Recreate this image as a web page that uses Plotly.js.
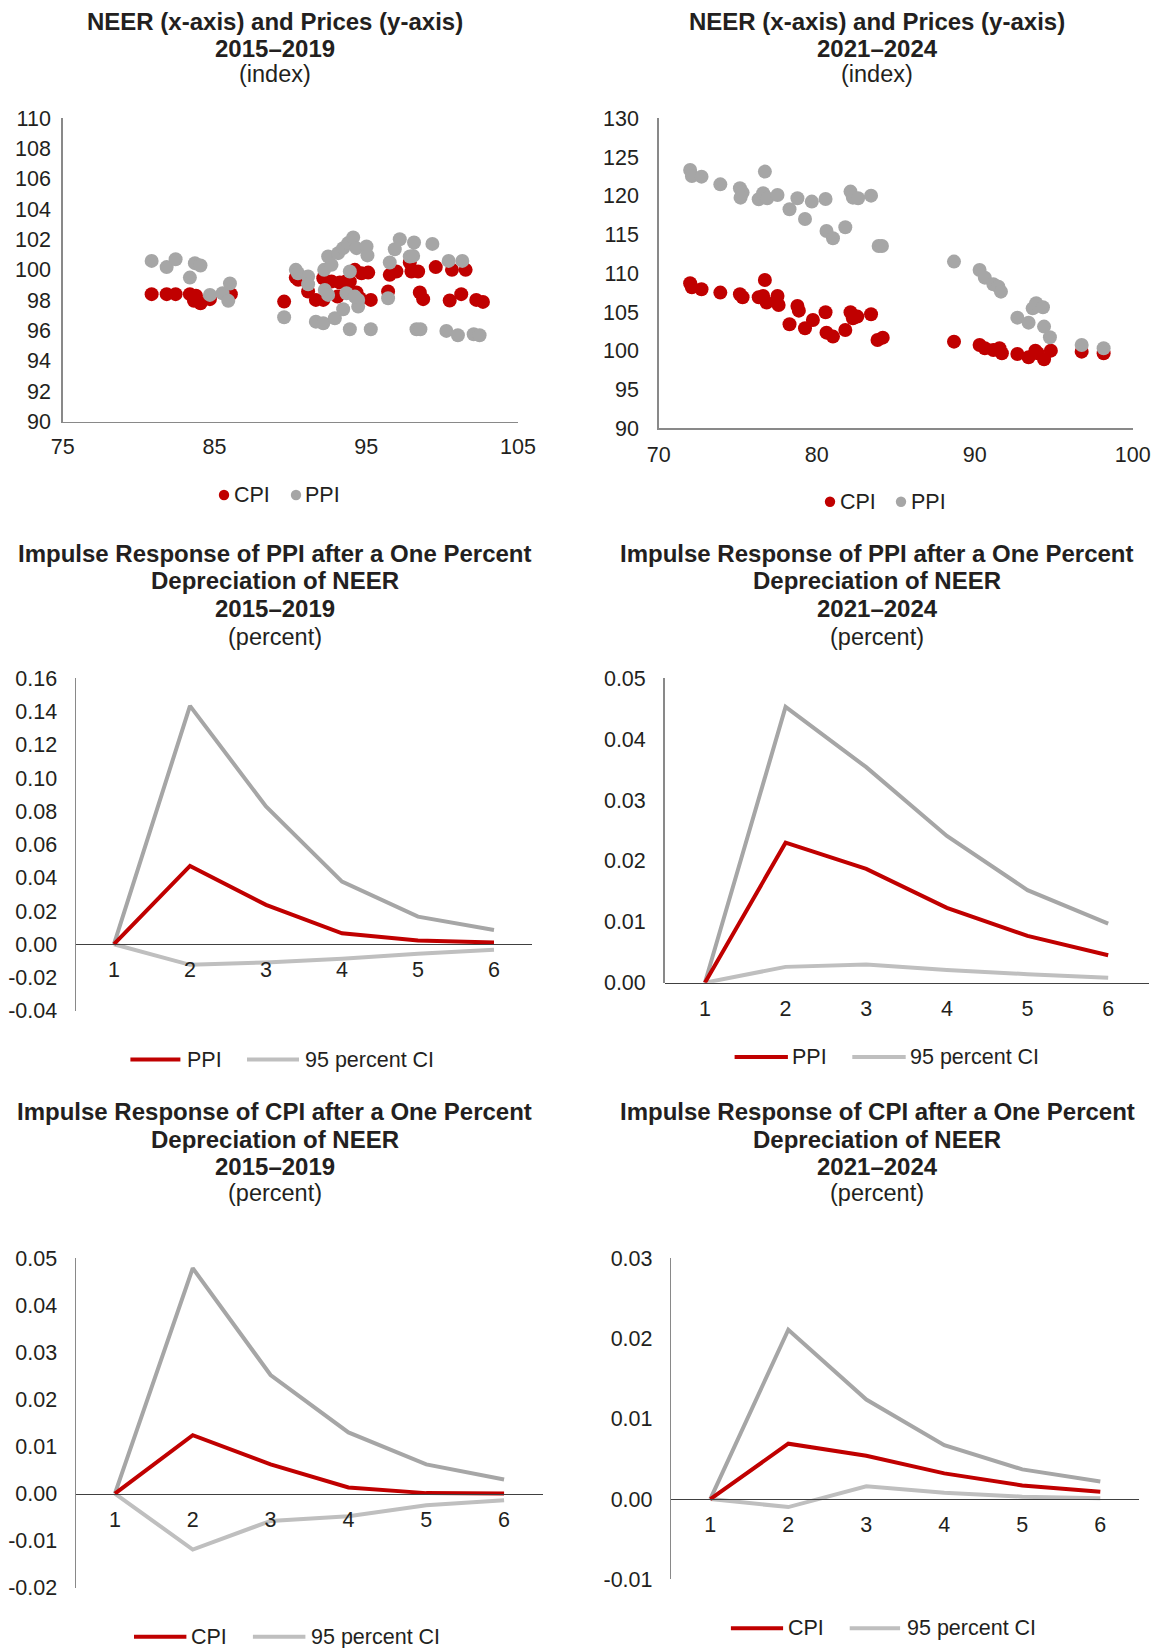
<!DOCTYPE html>
<html>
<head>
<meta charset="utf-8">
<script src="https://cdn.plot.ly/plotly-3.0.1.min.js"></script>
<style>
  html, body { margin: 0; padding: 0; background: #ffffff; }
  #chart { width: 1157px; height: 1648px; }
</style>
</head>
<body>
<div id="chart"></div>
<script>
// ---------------- DATA ----------------
// Panel 1: NEER vs prices, 2015–2019
const neer1519_cpi = [80.86,81.85,82.44,83.38,83.78,83.65,84.08,84.70,85.80,86.08,89.59,90.36,90.52,91.17,91.68,92.17,92.17,92.71,93.11,93.26,93.65,93.92,94.25,94.36,94.58,94.69,95.13,95.30,96.44,96.55,96.99,97.87,97.98,98.42,98.53,98.75,99.58,100.50,100.65,101.26,101.55,102.25,102.69];
const cpi1519 = [98.40,98.40,98.40,98.40,98.29,97.96,97.80,98.07,98.40,98.40,97.91,99.49,99.34,98.57,98.02,98.02,99.45,99.23,98.24,99.16,99.23,99.23,100.00,98.51,98.13,99.78,99.82,98.02,98.57,99.67,99.89,100.48,99.89,99.89,98.51,98.07,100.18,97.98,100.00,98.40,100.00,98.02,97.89];
const neer1519_ppi = [80.86,81.85,82.44,83.38,83.71,84.08,84.70,85.53,85.91,86.02,89.59,90.36,90.50,91.17,91.17,91.68,92.17,92.23,92.49,92.71,92.27,92.49,92.93,93.15,93.48,93.48,93.81,94.14,93.92,93.70,93.92,94.36,94.47,94.47,94.25,95.02,95.08,95.30,96.44,96.55,96.88,97.21,97.87,98.09,98.15,98.31,98.57,99.36,100.28,100.43,101.04,101.33,102.08,102.47];
const ppi1519 = [100.59,100.18,100.70,99.49,100.44,100.29,98.35,98.46,97.96,99.10,96.88,100.00,99.78,99.56,99.05,96.59,96.48,100.00,100.88,100.33,98.68,98.35,96.81,101.10,101.43,97.41,101.76,102.13,99.89,98.46,96.09,101.43,98.02,97.58,98.24,101.54,100.95,96.09,98.13,100.48,101.36,102.02,100.88,100.92,101.80,96.09,96.09,101.71,95.98,100.59,95.69,100.59,95.76,95.69];

// Panel 2: NEER vs prices, 2021–2024
const neer2124_cpi = [71.99,72.10,72.71,73.90,75.14,75.31,76.72,76.33,76.61,76.83,77.52,77.59,78.28,78.78,78.87,79.26,79.76,80.56,80.62,81.03,81.81,82.14,82.29,82.57,83.44,83.85,84.18,88.69,90.31,90.64,91.18,91.57,91.72,92.70,93.41,93.84,93.99,94.39,94.82,96.77,98.16];
const cpi2124 = [108.71,108.19,107.94,107.51,107.29,106.90,109.14,106.90,107.08,106.22,107.08,105.91,103.42,105.78,105.18,102.90,103.98,104.97,102.34,101.83,102.69,104.97,104.19,104.41,104.71,101.40,101.70,101.18,100.75,100.32,100.11,100.32,99.68,99.59,99.16,100.02,99.68,98.90,100.02,99.89,99.68];
const neer2124_ppi = [71.99,72.10,72.71,73.90,75.14,75.31,75.18,76.72,76.33,76.61,76.87,77.52,78.28,78.78,79.26,79.69,80.56,80.62,81.03,81.81,82.14,82.29,82.62,83.44,83.92,84.13,88.69,90.31,90.64,91.18,91.50,91.66,92.70,93.41,93.67,93.89,94.32,94.39,94.76,96.77,98.16];
const ppi2124 = [123.33,122.56,122.47,121.48,120.97,120.41,119.76,123.12,119.55,120.32,119.68,120.11,118.26,119.68,117.01,119.25,119.59,115.46,114.52,115.94,120.54,119.76,119.68,120.02,113.53,113.53,111.51,110.43,109.44,108.58,108.28,107.63,104.28,103.63,105.48,106.13,105.61,103.12,101.74,100.75,100.32];

// Impulse responses (horizon 1..6)
const horizon = [1,2,3,4,5,6];
const ppiIRF_1519   = [0, 0.0471, 0.0237, 0.0066, 0.0022, 0.0010];
const ppiUp_1519    = [0, 0.1434, 0.0829, 0.0377, 0.0166, 0.0086];
const ppiLo_1519    = [0, -0.0124, -0.0110, -0.0088, -0.0058, -0.0034];
const ppiIRF_2124   = [0, 0.0230, 0.0187, 0.0123, 0.0077, 0.0045];
const ppiUp_2124    = [0, 0.0453, 0.0354, 0.0241, 0.0152, 0.0097];
const ppiLo_2124    = [0, 0.0026, 0.0030, 0.0021, 0.0014, 0.0008];
const cpiIRF_1519   = [0, 0.0124, 0.0062, 0.0013, 0.0001, 0.0000];
const cpiUp_1519    = [0, 0.0479, 0.0252, 0.0130, 0.0062, 0.0030];
const cpiLo_1519    = [0, -0.0119, -0.0058, -0.0048, -0.0025, -0.0014];
const cpiIRF_2124   = [0, 0.0069, 0.0054, 0.0032, 0.0017, 0.0009];
const cpiUp_2124    = [0, 0.0211, 0.0124, 0.0067, 0.0037, 0.0022];
const cpiLo_2124    = [0, -0.0010, 0.0016, 0.0008, 0.0003, 0.0001];

// Tick values
const yTicks1 = [90,92,94,96,98,100,102,104,106,108,110];
const xTicks1 = [75,85,95,105];
const yTicks2 = [90,95,100,105,110,115,120,125,130];
const xTicks2 = [70,80,90,100];
const yTicks3 = [-0.04,-0.02,0.00,0.02,0.04,0.06,0.08,0.10,0.12,0.14,0.16];
const yTicks4 = [0.00,0.01,0.02,0.03,0.04,0.05];
const yTicks5 = [-0.02,-0.01,0.00,0.01,0.02,0.03,0.04,0.05];
const yTicks6 = [-0.01,0.00,0.01,0.02,0.03];

// ---------------- STYLE / LAYOUT ----------------
const W = 1157, H = 1648;
const FONT = 'Liberation Sans, Arial, Helvetica, sans-serif';
const RED = '#C00000', GRAY = '#A6A6A6', LGRAY = '#BFBFBF';
const TXT = '#231F20';
const LW = 4;

// plot boxes in pixels: [left, right, top, bottom]
const boxes = [
  [62.7, 518, 118, 421.7],
  [658.7, 1132.7, 118.3, 428.3],
  [76, 532, 678.3, 1010.7],
  [664.6, 1148.5, 678.3, 982.7],
  [76, 543, 1258.3, 1587.7],
  [671.3, 1139.3, 1258.3, 1579.3]
];
const xd = b => [b[0]/W, b[1]/W];
const yd = b => [1 - b[3]/H, 1 - b[2]/H];
const px = v => v / W;
const py = v => 1 - v / H;

const traces = [];
// Scatter panels
traces.push({type:'scatter', mode:'markers', x:neer1519_cpi, y:cpi1519, name:'CPI', xaxis:'x', yaxis:'y',
  marker:{color:RED, size:14}, hoverinfo:'skip', showlegend:false});
traces.push({type:'scatter', mode:'markers', x:neer1519_ppi, y:ppi1519, name:'PPI', xaxis:'x', yaxis:'y',
  marker:{color:GRAY, size:14}, hoverinfo:'skip', showlegend:false});
traces.push({type:'scatter', mode:'markers', x:neer2124_cpi, y:cpi2124, name:'CPI', xaxis:'x2', yaxis:'y2',
  marker:{color:RED, size:14}, hoverinfo:'skip', showlegend:false});
traces.push({type:'scatter', mode:'markers', x:neer2124_ppi, y:ppi2124, name:'PPI', xaxis:'x2', yaxis:'y2',
  marker:{color:GRAY, size:14}, hoverinfo:'skip', showlegend:false});

function irf(idx, name, mid, up, lo) {
  const xa = 'x' + idx, ya = 'y' + idx;
  traces.push({type:'scatter', mode:'lines', x:horizon, y:up, xaxis:xa, yaxis:ya, name:'95 percent CI (upper)',
    line:{color:GRAY, width:LW}, hoverinfo:'skip', showlegend:false});
  traces.push({type:'scatter', mode:'lines', x:horizon, y:lo, xaxis:xa, yaxis:ya, name:'95 percent CI',
    line:{color:LGRAY, width:LW}, hoverinfo:'skip', showlegend:false});
  traces.push({type:'scatter', mode:'lines', x:horizon, y:mid, xaxis:xa, yaxis:ya, name:name,
    line:{color:RED, width:LW}, hoverinfo:'skip', showlegend:false});
}
irf(3, 'PPI', ppiIRF_1519, ppiUp_1519, ppiLo_1519);
irf(4, 'PPI', ppiIRF_2124, ppiUp_2124, ppiLo_2124);
irf(5, 'CPI', cpiIRF_1519, cpiUp_1519, cpiLo_1519);
irf(6, 'CPI', cpiIRF_2124, cpiUp_2124, cpiLo_2124);

const tickFont = {family:FONT, size:21.5, color:TXT};
const layout = {
  width: W, height: H,
  margin: {l:0, r:0, t:0, b:0},
  paper_bgcolor: '#ffffff', plot_bgcolor: 'rgba(0,0,0,0)',
  font: {family: FONT, color: TXT},
  showlegend: false,
  annotations: [],
  shapes: []
};

function yAxis(idx, ticks, range, texts, standoff) {
  return {
    domain: yd(boxes[idx-1]), anchor: 'x' + (idx === 1 ? '' : idx), range: range,
    tickvals: ticks, ticktext: texts, showgrid: false, zeroline: false,
    showline: true, linecolor: '#898989', linewidth: 1.5, ticks: '',
    tickfont: tickFont, ticklabelstandoff: standoff, fixedrange: true
  };
}
// scatter axes
layout.xaxis = {domain: xd(boxes[0]), anchor: 'y', range: [75,105], tickvals: xTicks1, ticktext: xTicks1.map(String),
  showgrid:false, zeroline:false, showline:true, linecolor:'#898989', linewidth:1.5, ticks:'', tickfont:tickFont, ticklabelstandoff: 5};
layout.yaxis = yAxis(1, yTicks1, [90,110], yTicks1.map(String), 6);
layout.xaxis2 = {domain: xd(boxes[1]), anchor: 'y2', range: [70,100], tickvals: xTicks2, ticktext: xTicks2.map(String),
  showgrid:false, zeroline:false, showline:true, linecolor:'#898989', linewidth:1.5, ticks:'', tickfont:tickFont, ticklabelstandoff: 6};
layout.yaxis2 = yAxis(2, yTicks2, [90,130], yTicks2.map(String), 14);

// IRF axes
const irfYTicks = {3: yTicks3, 4: yTicks4, 5: yTicks5, 6: yTicks6};
for (const idx of [3,4,5,6]) {
  const t = irfYTicks[idx];
  const range = [t[0], t[t.length-1]];
  const dom = yd(boxes[idx-1]);
  const pos = dom[0] + (0 - range[0]) / (range[1] - range[0]) * (dom[1] - dom[0]);
  layout['yaxis' + idx] = yAxis(idx, t, range, t.map(v => v.toFixed(2)), 13);
  layout['xaxis' + idx] = {domain: xd(boxes[idx-1]), anchor: 'free', position: pos, range: [0.5, 6.5],
    tickvals: horizon, ticktext: horizon.map(String), showgrid:false, zeroline:false,
    showline:true, linecolor:'#404040', linewidth:1.2, ticks:'', tickfont:tickFont, ticklabelstandoff: 6, fixedrange:true};
}

// ---- legends (drawn as shapes + text) ----
const LEGFONT = {family:FONT, size:21.5, color:TXT};
function legendText(x, y, text) {
  layout.annotations.push({xref:'paper', yref:'paper', x:px(x), y:py(y), xanchor:'left', yanchor:'middle',
    text:text, showarrow:false, font:LEGFONT, xshift:-2});
}
function legendDot(cx, cy, color) {
  const r = 5.2;
  layout.shapes.push({type:'circle', xref:'paper', yref:'paper', x0:px(cx-r), x1:px(cx+r), y0:py(cy+r), y1:py(cy-r),
    fillcolor:color, line:{width:0}});
}
function legendLine(x0, x1, y, color) {
  layout.shapes.push({type:'line', xref:'paper', yref:'paper', x0:px(x0), x1:px(x1), y0:py(y), y1:py(y),
    line:{color:color, width:LW}});
}
// scatter legends: [dot1 x, text1 x, dot2 x, text2 x, y]
[[224, 234, 296, 305, 495], [830, 840, 901, 911, 501.7]].forEach(l => {
  legendDot(l[0], l[4], RED); legendText(l[1], l[4], 'CPI');
  legendDot(l[2], l[4], GRAY); legendText(l[3], l[4], 'PPI');
});
// line legends: [red x0, red x1, text x, gray x0, gray x1, text x, y, label]
[[130.4, 180.4, 187, 247, 299, 305, 1059.5, 'PPI'],
 [734.6, 787.9, 792, 852.3, 905.7, 910, 1057, 'PPI'],
 [134, 186.4, 191, 252.9, 305.4, 310.5, 1636.7, 'CPI'],
 [730.9, 783.1, 787.5, 849.7, 900.1, 907, 1628.3, 'CPI']].forEach(l => {
  legendLine(l[0], l[1], l[6], RED); legendText(l[2], l[6], l[7]);
  legendLine(l[3], l[4], l[6], LGRAY); legendText(l[5], l[6], '95 percent CI');
});

// titles: centre x px, lines [text, centre y px, bold]
const titles = [
  [274.6, [['NEER (x-axis) and Prices (y-axis)',21.7,true],['2015–2019',48.3,true],['(index)',74,false]]],
  [877,   [['NEER (x-axis) and Prices (y-axis)',21.7,true],['2021–2024',48.3,true],['(index)',74,false]]],
  [274.6, [['Impulse Response of PPI after a One Percent',553.3,true],['Depreciation of NEER',580.7,true],['2015–2019',608.3,true],['(percent)',636.7,false]]],
  [877,   [['Impulse Response of PPI after a One Percent',553.3,true],['Depreciation of NEER',580.7,true],['2021–2024',608.3,true],['(percent)',636.7,false]]],
  [274.6, [['Impulse Response of CPI after a One Percent',1111.7,true],['Depreciation of NEER',1139.3,true],['2015–2019',1166.7,true],['(percent)',1193.3,false]]],
  [877,   [['Impulse Response of CPI after a One Percent',1111.7,true],['Depreciation of NEER',1139.3,true],['2021–2024',1166.7,true],['(percent)',1193.3,false]]]
];
titles.forEach(t => {
  t[1].forEach(l => {
    layout.annotations.push({
      xref:'paper', yref:'paper', x: px(t[0]), y: py(l[1]), xanchor:'center', yanchor:'middle',
      text: l[2] ? '<b>' + l[0] + '</b>' : l[0], showarrow:false,
      font:{family:FONT, size: l[2] ? 24 : 23.5, color:TXT}
    });
  });
});

Plotly.newPlot('chart', traces, layout, {staticPlot:true, displayModeBar:false});
</script>
</body>
</html>
